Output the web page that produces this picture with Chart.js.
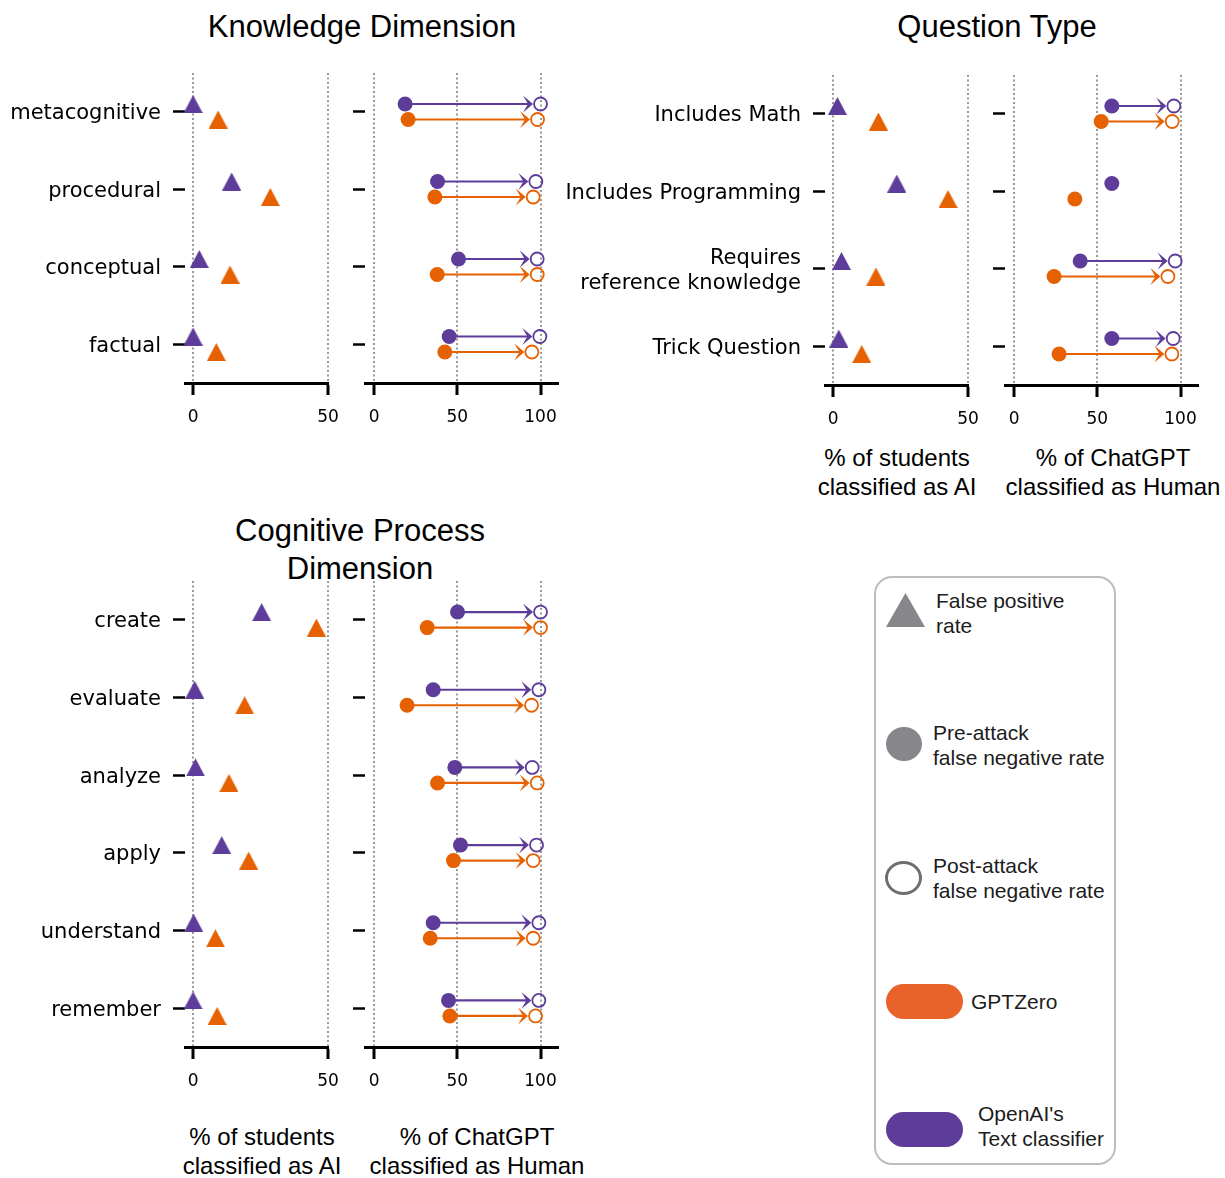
<!DOCTYPE html>
<html>
<head>
<meta charset="utf-8">
<script src="https://cdn.jsdelivr.net/npm/chart.js@4.4.0/dist/chart.umd.min.js"></script>
<style>
  body { margin:0; width:1225px; height:1178px; position:relative; background:#fff; overflow:hidden;
         font-family:'Liberation Sans', Arial, sans-serif; color:#000; }
  canvas { position:absolute; }
  .title { position:absolute; font-size:31px; text-align:center; line-height:38px; white-space:nowrap; }
  .axt { position:absolute; font-size:24px; text-align:center; line-height:29px; white-space:nowrap; }
  #legend { position:absolute; left:874px; top:576px; width:242px; height:589px; box-sizing:border-box;
            border:2.5px solid #bdbdbd; border-radius:18px; }
  .lg { position:absolute; font-size:21px; line-height:25px; color:#1c1c1c; white-space:nowrap; }
  .sw { position:absolute; }
</style>
</head>
<body>
<div class="title" style="left:162px;top:8px;width:400px">Knowledge Dimension</div>
<div class="title" style="left:847px;top:8px;width:300px">Question Type</div>
<div class="title" style="left:160px;top:512px;width:400px">Cognitive Process<br>Dimension</div>

<div class="axt" style="left:787px;top:443px;width:220px">% of students<br>classified as AI</div>
<div class="axt" style="left:998px;top:443px;width:230px">% of ChatGPT<br>classified as Human</div>
<div class="axt" style="left:152px;top:1122px;width:220px">% of students<br>classified as AI</div>
<div class="axt" style="left:362px;top:1122px;width:230px">% of ChatGPT<br>classified as Human</div>

<div id="legend"></div>
<svg class="sw" style="left:886px;top:593px" width="39" height="34"><polygon points="19.5,0 39,34 0,34" fill="#87878b"/></svg>
<div class="lg" style="left:936px;top:588px">False positive<br>rate</div>
<div class="sw" style="left:886px;top:727px;width:36px;height:34px;border-radius:50%;background:#87878b"></div>
<div class="lg" style="left:933px;top:720px">Pre-attack<br>false negative rate</div>
<div class="sw" style="left:885px;top:861px;width:37px;height:34px;box-sizing:border-box;border-radius:50%;border:3px solid #6e6e6e"></div>
<div class="lg" style="left:933px;top:853px">Post-attack<br>false negative rate</div>
<div class="sw" style="left:886px;top:984px;width:77px;height:35px;border-radius:18px;background:#e8622a"></div>
<div class="lg" style="left:971px;top:989px">GPTZero</div>
<div class="sw" style="left:886px;top:1112px;width:77px;height:35px;border-radius:18px;background:#5e3c99"></div>
<div class="lg" style="left:978px;top:1101px">OpenAI's<br>Text classifier</div>

<script>
// Knowledge Dimension
const kdCats = ['metacognitive', 'procedural', 'conceptual', 'factual'];
const kdFprOpenAI = [0, 14.3, 2.3, 0];
const kdFprGPTZero = [9.3, 28.6, 13.7, 8.6];
const kdPreOpenAI = [18.6, 38.1, 50.7, 45.1];
const kdPostOpenAI = [100, 97.2, 98, 99.6];
const kdPreGPTZero = [20.4, 36.5, 37.9, 42.5];
const kdPostGPTZero = [98.2, 95.6, 98, 94.8];

// Question Type
const qtCats = ['Includes Math', 'Includes Programming', ['Requires', 'reference knowledge'], 'Trick Question'];
const qtFprOpenAI = [1.6, 23.6, 3.1, 2.1];
const qtFprGPTZero = [16.8, 42.6, 15.9, 10.6];
const qtPreOpenAI = [58.7, 58.7, 39.7, 58.7];
const qtPostOpenAI = [96, null, 96.8, 95.6];
const qtPreGPTZero = [52.3, 36.5, 24, 27];
const qtPostGPTZero = [95, null, 92.4, 94.8];

// Cognitive Process Dimension
const cpCats = ['create', 'evaluate', 'analyze', 'apply', 'understand', 'remember'];
const cpFprOpenAI = [25.4, 0.6, 0.9, 10.6, 0.2, 0];
const cpFprGPTZero = [45.7, 19.1, 13.3, 20.6, 8.3, 8.9];
const cpPreOpenAI = [50.1, 35.5, 48.5, 51.9, 35.5, 44.7];
const cpPostOpenAI = [100, 99, 95, 97.6, 99, 99];
const cpPreGPTZero = [31.9, 19.8, 38.1, 47.7, 33.7, 45.5];
const cpPostGPTZero = [100, 94.6, 98, 95.6, 95.6, 97];

const fprTicks = [0, 50];
const fnrTicks = [0, 50, 100];

const ORANGE = '#e66101';
const PURPLE = '#5e3c99';

function triangle(color) {
  const c = document.createElement('canvas');
  c.width = 19; c.height = 18;
  const g = c.getContext('2d');
  g.fillStyle = color;
  g.beginPath(); g.moveTo(9.5, 0); g.lineTo(19, 18); g.lineTo(0, 18); g.closePath(); g.fill();
  return c;
}

function fprSets(cats, openai, gptzero) {
  return [
    { data: cats.map((c, i) => ({ x: openai[i], y: i - 0.1 })), pointStyle: triangle(PURPLE), pointRadius: 9, clip: false },
    { data: cats.map((c, i) => ({ x: gptzero[i], y: i + 0.1 })), pointStyle: triangle(ORANGE), pointRadius: 9, clip: false }
  ];
}

function pts(arr, off) {
  return arr.map((v, i) => v == null ? null : { x: v, y: i + off }).filter(p => p);
}

function fnrSets(preO, postO, preG, postG) {
  return [
    { data: pts(preO, -0.1), pointRadius: 7.5, pointBackgroundColor: PURPLE, pointBorderWidth: 0, clip: false },
    { data: pts(postO, -0.1), pointRadius: 6.5, pointBackgroundColor: 'rgba(0,0,0,0)', pointBorderColor: PURPLE, pointBorderWidth: 1.8, clip: false },
    { data: pts(preG, 0.1), pointRadius: 7.5, pointBackgroundColor: ORANGE, pointBorderWidth: 0, clip: false },
    { data: pts(postG, 0.1), pointRadius: 6.5, pointBackgroundColor: 'rgba(0,0,0,0)', pointBorderColor: ORANGE, pointBorderWidth: 1.8, clip: false }
  ];
}

// arrows from pre-attack to post-attack point
function arrows(pairs) {
  return {
    id: 'arrows',
    beforeDatasetsDraw(chart) {
      const xs = chart.scales.x, ys = chart.scales.y, ctx = chart.ctx;
      pairs.forEach(p => {
        p.pre.forEach((v, i) => {
          const w = p.post[i];
          if (v == null || w == null) return;
          const x1 = xs.getPixelForValue(v);
          const x2 = xs.getPixelForValue(w) - 7.5;
          const y = ys.getPixelForValue(i + p.off);
          ctx.save();
          ctx.strokeStyle = p.color; ctx.fillStyle = p.color; ctx.lineWidth = 2.2;
          ctx.beginPath(); ctx.moveTo(x1, y); ctx.lineTo(x2 - 4, y); ctx.stroke();
          ctx.beginPath();
          ctx.moveTo(x2, y); ctx.lineTo(x2 - 10, y - 8.5); ctx.lineTo(x2 - 5, y); ctx.lineTo(x2 - 10, y + 8.5);
          ctx.closePath(); ctx.fill();
          ctx.restore();
        });
      });
    }
  };
}

function makePanel(o) {
  const padT = 30, padR = 24, xH = 48;
  const cv = document.createElement('canvas');
  cv.width = o.yW + (o.R - o.L) + padR;
  cv.height = padT + (o.B - o.T) + xH;
  cv.style.left = (o.L - o.yW) + 'px';
  cv.style.top = (o.T - padT) + 'px';
  document.body.appendChild(cv);
  new Chart(cv, {
    type: 'scatter',
    data: { datasets: o.datasets },
    options: {
      responsive: false, animation: false, devicePixelRatio: 1,
      layout: { padding: { top: padT, right: padR, left: 0, bottom: 0 } },
      plugins: { legend: { display: false }, tooltip: { enabled: false } },
      scales: {
        x: {
          type: 'linear', min: o.xMin, max: o.xMax,
          afterBuildTicks: s => { s.ticks = o.xTicks.map(v => ({ value: v })); },
          afterFit: s => { s.height = xH; },
          ticks: { autoSkip: false, padding: 12, color: '#000', font: { family: 'DejaVu Sans', size: 17 } },
          grid: { color: '#999999', lineWidth: 2, borderDash: [2, 2.5], tickColor: '#000', tickWidth: 3, tickLength: 12 },
          border: { color: '#000', width: 3, dash: [2, 2.5] }
        },
        y: {
          type: 'linear', reverse: true, min: -0.5, max: o.cats.length - 0.5,
          afterBuildTicks: s => { s.ticks = o.cats.map((c, i) => ({ value: i })); },
          afterFit: s => { s.width = o.yW; },
          ticks: { autoSkip: false, padding: 12, labelOffset: 2, color: '#000', font: { family: 'DejaVu Sans', size: 21 },
                   callback: v => o.labels ? o.cats[v] : '' },
          grid: { drawOnChartArea: false, tickColor: '#000', tickWidth: 2.5, tickLength: 12 },
          border: { display: false }
        }
      }
    },
    plugins: o.plugins || []
  });
}

// Knowledge Dimension
makePanel({ L: 185, R: 328, T: 73, B: 383, yW: 185, xMin: -3, xMax: 50, xTicks: fprTicks,
  cats: kdCats, labels: true, datasets: fprSets(kdCats, kdFprOpenAI, kdFprGPTZero) });
makePanel({ L: 365, R: 558, T: 73, B: 383, yW: 20, xMin: -5.5, xMax: 110.5, xTicks: fnrTicks,
  cats: kdCats, labels: false, datasets: fnrSets(kdPreOpenAI, kdPostOpenAI, kdPreGPTZero, kdPostGPTZero),
  plugins: [arrows([{ pre: kdPreOpenAI, post: kdPostOpenAI, off: -0.1, color: PURPLE },
                    { pre: kdPreGPTZero, post: kdPostGPTZero, off: 0.1, color: ORANGE }])] });

// Question Type
makePanel({ L: 825, R: 968, T: 75, B: 385, yW: 265, xMin: -3, xMax: 50, xTicks: fprTicks,
  cats: qtCats, labels: true, datasets: fprSets(qtCats, qtFprOpenAI, qtFprGPTZero) });
makePanel({ L: 1005, R: 1198, T: 75, B: 385, yW: 20, xMin: -5.5, xMax: 110.5, xTicks: fnrTicks,
  cats: qtCats, labels: false, datasets: fnrSets(qtPreOpenAI, qtPostOpenAI, qtPreGPTZero, qtPostGPTZero),
  plugins: [arrows([{ pre: qtPreOpenAI, post: qtPostOpenAI, off: -0.1, color: PURPLE },
                    { pre: qtPreGPTZero, post: qtPostGPTZero, off: 0.1, color: ORANGE }])] });

// Cognitive Process Dimension
makePanel({ L: 185, R: 328, T: 581, B: 1047, yW: 185, xMin: -3, xMax: 50, xTicks: fprTicks,
  cats: cpCats, labels: true, datasets: fprSets(cpCats, cpFprOpenAI, cpFprGPTZero) });
makePanel({ L: 365, R: 558, T: 581, B: 1047, yW: 20, xMin: -5.5, xMax: 110.5, xTicks: fnrTicks,
  cats: cpCats, labels: false, datasets: fnrSets(cpPreOpenAI, cpPostOpenAI, cpPreGPTZero, cpPostGPTZero),
  plugins: [arrows([{ pre: cpPreOpenAI, post: cpPostOpenAI, off: -0.1, color: PURPLE },
                    { pre: cpPreGPTZero, post: cpPostGPTZero, off: 0.1, color: ORANGE }])] });
</script>
</body>
</html>
